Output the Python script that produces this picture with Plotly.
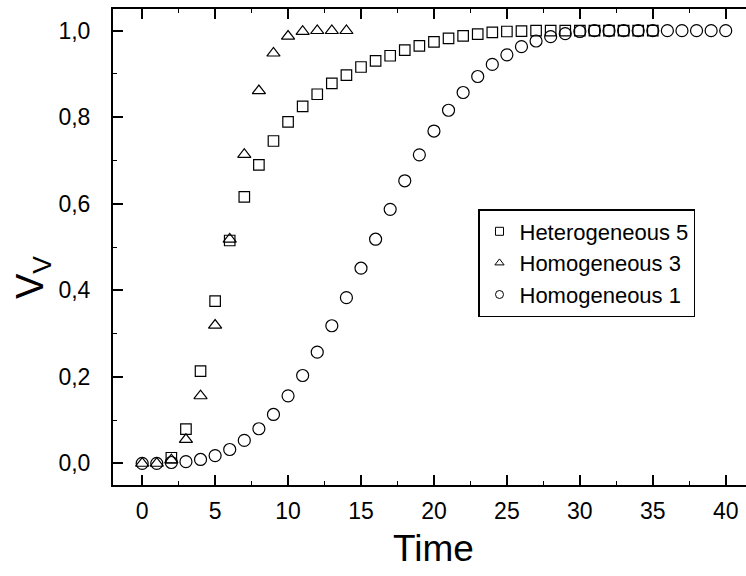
import plotly.graph_objects as go

# ---- data ----
t_het5 = list(range(2, 36))
v_het5 = [0.013, 0.079, 0.213, 0.375, 0.515, 0.616, 0.690, 0.745, 0.789, 0.825,
          0.853, 0.878, 0.897, 0.916, 0.930, 0.942, 0.955, 0.965, 0.974, 0.982,
          0.988, 0.992, 0.996, 0.998, 0.999, 1.0, 1.0, 1.0, 1.0, 1.0,
          1.0, 1.0, 1.0, 1.0]

t_hom3 = list(range(0, 15))
v_hom3 = [0.0, 0.0, 0.008, 0.055, 0.156, 0.319, 0.518, 0.714, 0.861, 0.948,
          0.987, 0.998, 1.0, 1.0, 1.0]

t_hom1 = list(range(0, 41))
v_hom1 = [0.0, 0.0, 0.002, 0.004, 0.009, 0.018, 0.032, 0.053, 0.080, 0.113,
          0.156, 0.203, 0.257, 0.318, 0.383, 0.451, 0.518, 0.587, 0.653, 0.713,
          0.768, 0.816, 0.857, 0.894, 0.922, 0.944, 0.963, 0.976, 0.986, 0.993,
          0.998, 1.0, 1.0, 1.0, 1.0, 1.0, 1.0, 1.0, 1.0, 1.0, 1.0]

series_names = ["Heterogeneous 5", "Homogeneous 3", "Homogeneous 1"]
x_ticks = [0, 5, 10, 15, 20, 25, 30, 35, 40]
y_ticks = [0.0, 0.2, 0.4, 0.6, 0.8, 1.0]

FONT = "Liberation Sans, Arial, Helvetica, sans-serif"
W, H = 746, 576
ml, mt, mb, mr = 113, 9, 91, 0

fig = go.Figure()

specs = [
    (t_het5, v_het5, "square-open", 10.5),
    (t_hom3, v_hom3, "triangle-up-open", 11.5),
    (t_hom1, v_hom1, "circle-open", 12),
]
for (xs, ys, sym, sz), name in zip(specs, series_names):
    fig.add_trace(go.Scatter(
        x=xs, y=ys, mode="markers", name=name, showlegend=False,
        marker=dict(symbol=sym, size=sz, color="black", line=dict(color="black", width=1.2)),
        cliponaxis=False,
    ))
# legend entries with smaller symbols
for (xs, ys, sym, sz), name in zip(specs, series_names):
    fig.add_trace(go.Scatter(
        x=[None], y=[None], mode="markers", name=name,
        marker=dict(symbol=sym, size=8, color="black", line=dict(color="black", width=1)),
    ))

axis_common = dict(
    showline=True, linecolor="black", linewidth=2,
    ticks="inside", ticklen=10, tickwidth=1.5, tickcolor="black",
    showgrid=False, zeroline=False,
    tickfont=dict(family=FONT, size=23, color="black"),
)

fig.update_xaxes(
    range=[-2, 41.39], tickvals=x_ticks, mirror="ticks",
    minor=dict(dtick=2.5, tick0=0, ticks="inside", ticklen=4, tickwidth=1.2, tickcolor="black"),
    ticklabelstandoff=4,
    **axis_common,
)
fig.update_yaxes(
    range=[-0.05, 1.05], tickvals=y_ticks, tickformat=".1f", mirror=False,
    minor=dict(dtick=0.1, tick0=0, ticks="inside", ticklen=4, tickwidth=1.2, tickcolor="black"),
    ticklabelstandoff=16,
    **axis_common,
)

pw = W - ml - mr
ph = H - mt - mb
fig.add_annotation(
    text="Time", xref="paper", yref="paper",
    x=(433.5 - ml) / pw, y=(H - mb - 548) / ph, xanchor="center", yanchor="middle",
    showarrow=False, font=dict(family=FONT, size=37, color="black"),
)
fig.add_annotation(
    text="V<sub>V</sub>", xref="paper", yref="paper", textangle=-90,
    x=(33 - ml) / pw, y=(H - mb - 278) / ph, xanchor="center", yanchor="middle",
    showarrow=False, font=dict(family=FONT, size=38, color="black"),
)

fig.update_layout(
    width=W, height=H,
    margin=dict(l=ml, r=mr, t=mt, b=mb, autoexpand=False),
    paper_bgcolor="white", plot_bgcolor="white",
    separators=", ",
    showlegend=True,
    legend=dict(
        x=(478 - ml) / pw, y=(H - mb - 209) / ph, xanchor="left", yanchor="top",
        bordercolor="black", borderwidth=1.5, bgcolor="white",
        font=dict(family=FONT, size=22, color="black"),
        itemwidth=30, tracegroupgap=0,
    ),
)

fig.write_html("out.html")
